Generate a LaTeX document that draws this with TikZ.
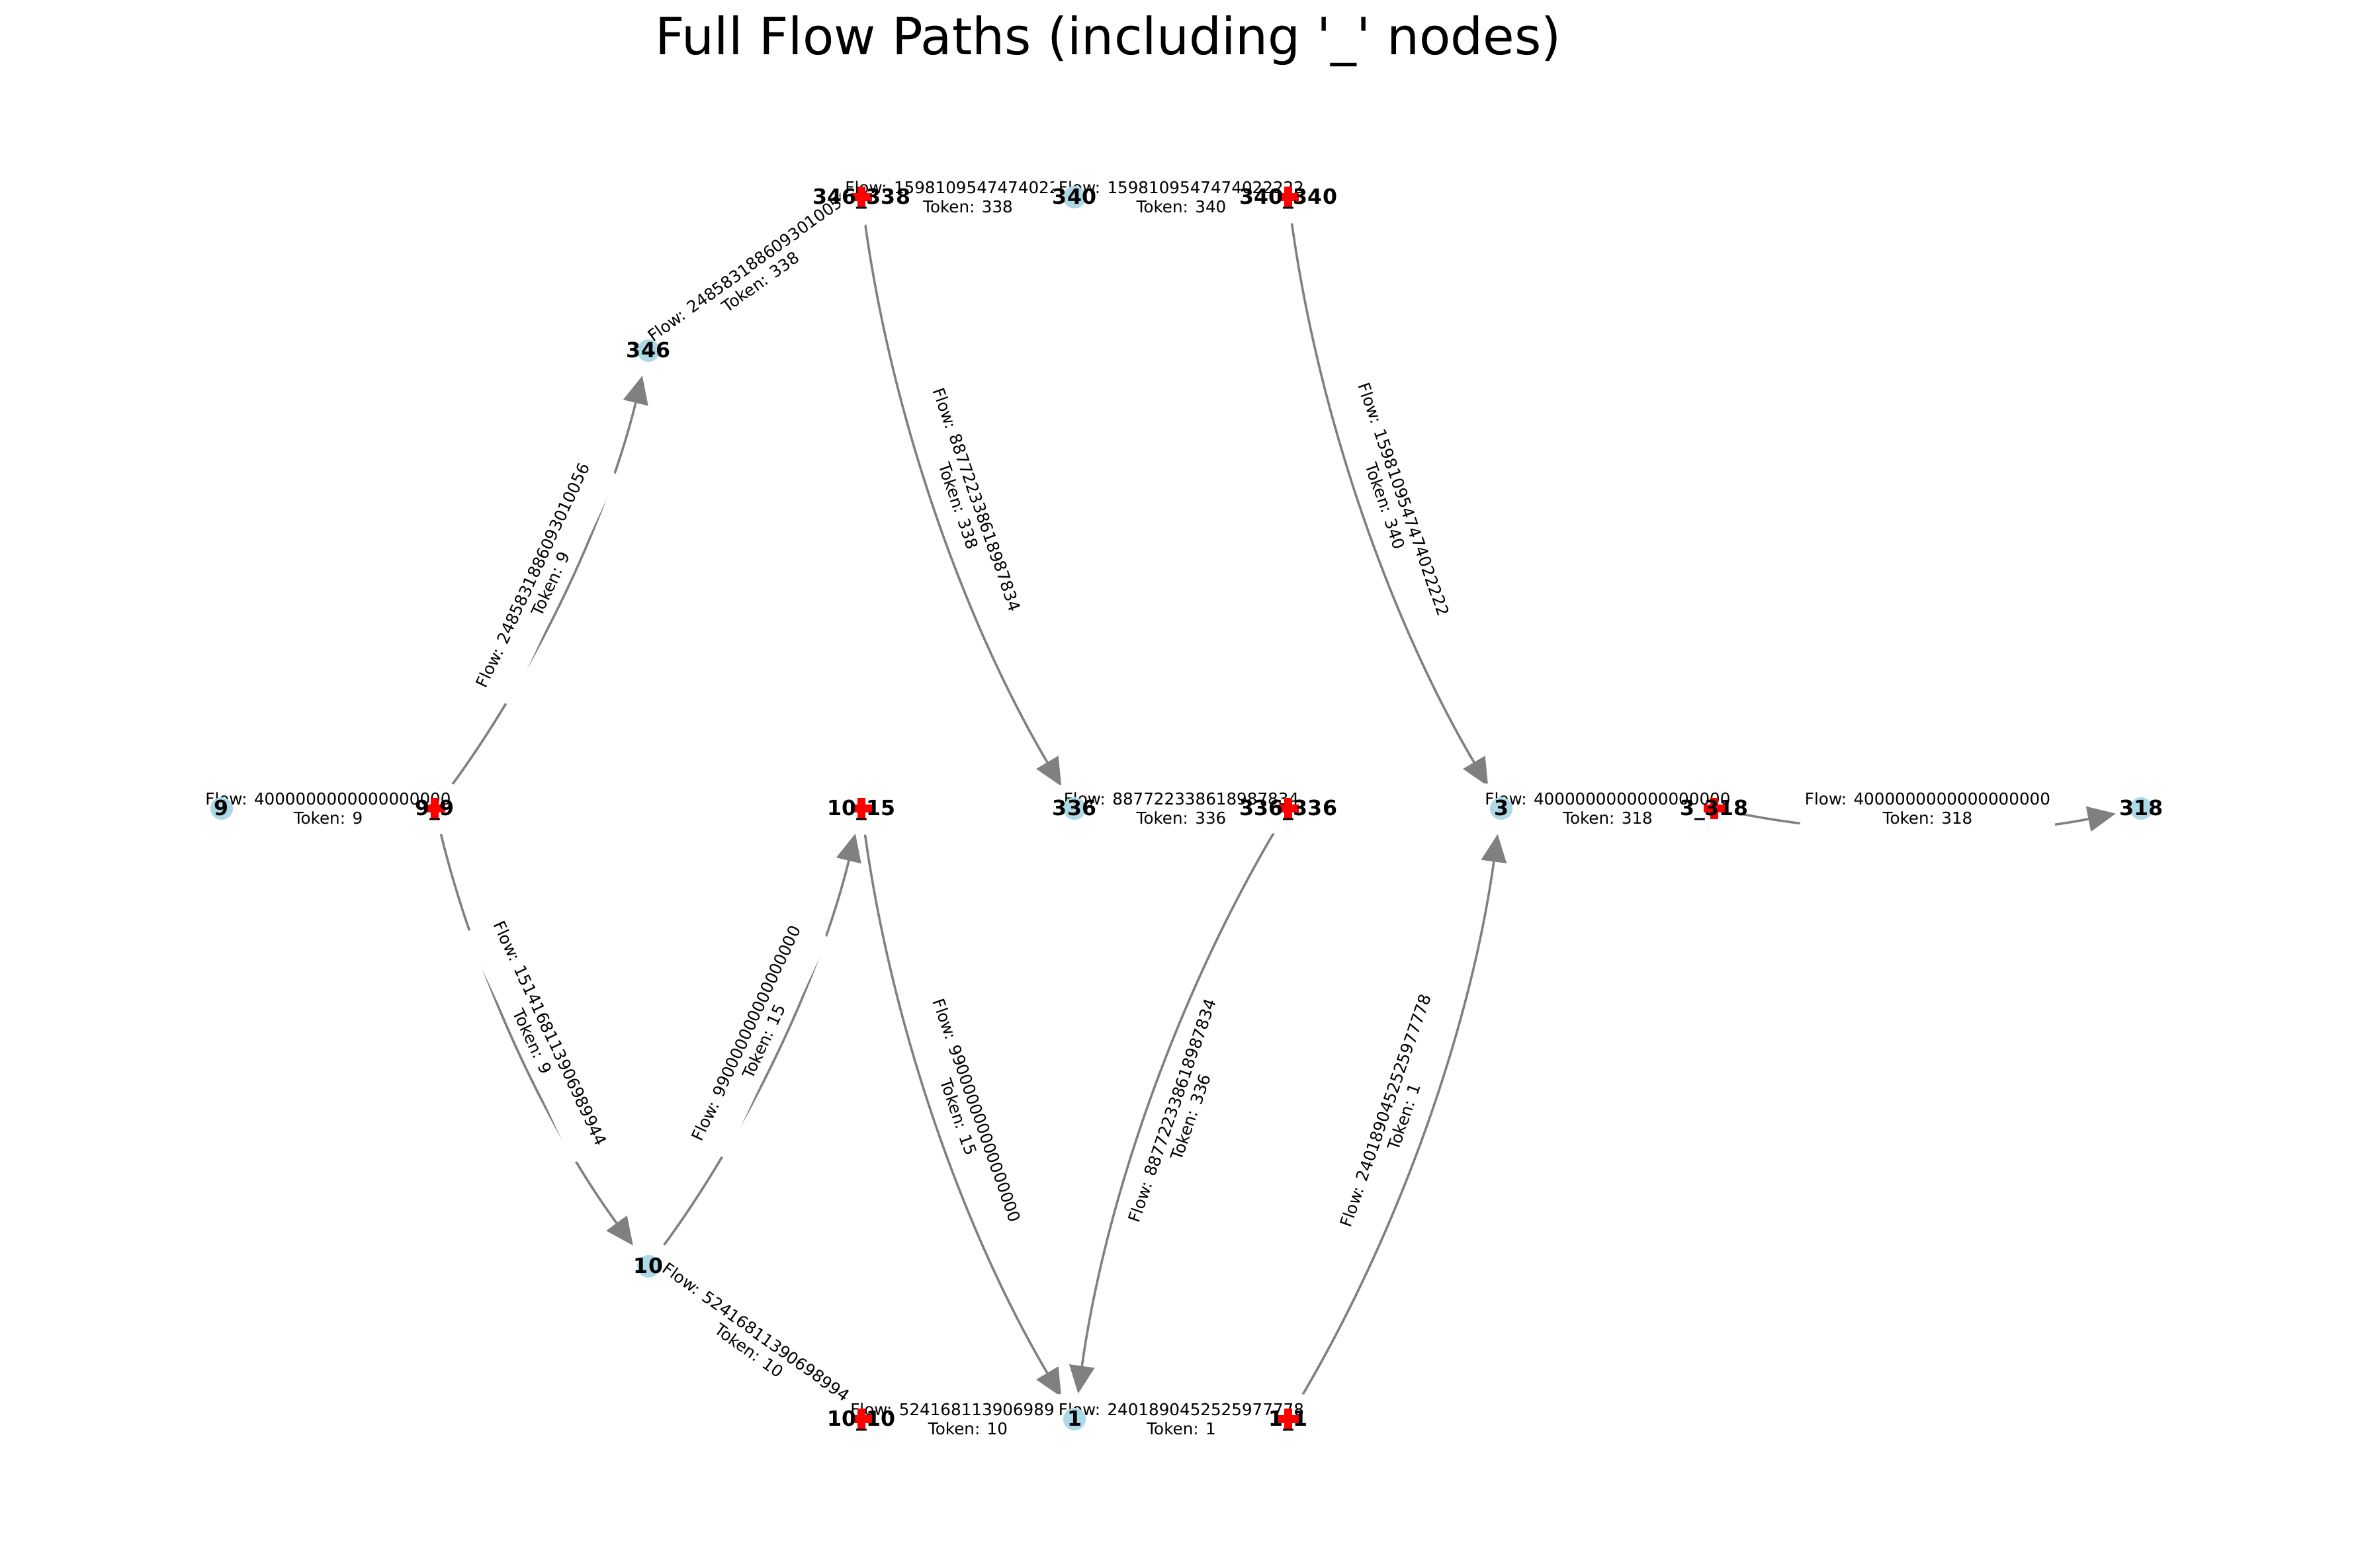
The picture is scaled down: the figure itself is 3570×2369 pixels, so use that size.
\documentclass[tikz,border=0pt]{standalone}
\usepackage{fontspec}
\setmainfont{DejaVu Sans}
\usetikzlibrary{arrows.meta}
\definecolor{nodeblue}{HTML}{ADD8E6}
\pgfdeclarelayer{edges}
\pgfdeclarelayer{labels}
\pgfsetlayers{edges,labels,main}
\tikzset{
  token/.style={circle, fill=nodeblue, minimum size=0.34cm, inner sep=0pt,
    font=\fontsize{9}{9}\selectfont\bfseries, text height=0.73em, text depth=0.12em},
  junction/.style={rectangle, minimum size=0.32cm, inner sep=0pt,
    font=\fontsize{9}{9}\selectfont\bfseries, text height=0.73em, text depth=0.12em,
    path picture={
      \fill[red] ([xshift=-0.06cm]path picture bounding box.south) rectangle ([xshift=0.06cm]path picture bounding box.north);
      \fill[red] ([yshift=-0.06cm]path picture bounding box.west) rectangle ([yshift=0.06cm]path picture bounding box.east);
    }},
  flow/.style={draw=gray, line width=0.035cm, bend right=11.3, looseness=0.87,
    shorten <=0.4cm, shorten >=0.39cm, -{Triangle[length=0.42cm, width=0.38cm]}},
  flowlabel/.style={fill=white, rounded corners=2pt, inner xsep=2pt, inner ysep=3.8pt,
    align=center, sloped, font=\fontsize{7}{8.4}\selectfont}
}
\newcommand{\nodetext}[1]{\makebox[0pt]{#1}}
\begin{document}
\begin{tikzpicture}[x=0.01cm, y=-0.01cm]
\useasboundingbox (0,0) rectangle (3570,2369);
\node[font=\fontsize{22}{26}\selectfont] (title) at (1675,62)
  {Full Flow Paths (including \textquotesingle\_\textquotesingle{} nodes)};

% token nodes and split nodes
\node[token] (n9) at (335,1222) {\nodetext{9}};
\node[junction] (j9) at (657,1222) {\nodetext{9\_9}};
\node[token] (n346) at (980,530) {\nodetext{346}};
\node[junction] (j346) at (1302,298) {\nodetext{346\_338}};
\node[token] (n340) at (1624,298) {\nodetext{340}};
\node[junction] (j340) at (1947,298) {\nodetext{340\_340}};
\node[junction] (j1015) at (1302,1222) {\nodetext{10\_15}};
\node[token] (n336) at (1624,1222) {\nodetext{336}};
\node[junction] (j336) at (1947,1222) {\nodetext{336\_336}};
\node[token] (n3) at (2269,1222) {\nodetext{3}};
\node[junction] (j3) at (2591,1222) {\nodetext{3\_318}};
\node[token] (n318) at (3236,1222) {\nodetext{318}};
\node[token] (n10) at (980,1914) {\nodetext{10}};
\node[junction] (j1010) at (1302,2145) {\nodetext{10\_10}};
\node[token] (n1) at (1624,2145) {\nodetext{1}};
\node[junction] (j11) at (1947,2145) {\nodetext{1\_1}};

% edges
\begin{pgfonlayer}{edges}
\foreach \src/\dst in {n9/j9, j9/n346, j9/n10, n346/j346, j346/n340, j346/n336,
    n340/j340, j340/n3, n336/j336, j336/n1, n10/j1015, j1015/n1,
    n10/j1010, j1010/n1, n1/j11, j11/n3, n3/j3, j3/n318}
  \draw[flow] (\src.center) to (\dst.center);
\end{pgfonlayer}

% edge labels
\begin{pgfonlayer}{labels}
\foreach \src/\dst/\fl/\tok in {n9/j9/4000000000000000000/9,
    j9/n346/2485831886093010056/9, j9/n10/1514168113906989944/9,
    n346/j346/2485831886093010056/338, j346/n340/1598109547474022222/338,
    j346/n336/887722338618987834/338, n340/j340/1598109547474022222/340,
    j340/n3/1598109547474022222/340, n336/j336/887722338618987834/336,
    j336/n1/887722338618987834/336, n10/j1015/990000000000000000/15,
    j1015/n1/990000000000000000/15, n10/j1010/524168113906989944/10,
    j1010/n1/524168113906989944/10, n1/j11/2401890452525977778/1,
    j11/n3/2401890452525977778/1, n3/j3/4000000000000000000/318,
    j3/n318/4000000000000000000/318}
  \path (\src.center) -- node[flowlabel] {Flow: \fl\\Token: \tok} (\dst.center);
\end{pgfonlayer}
\end{tikzpicture}
\end{document}
